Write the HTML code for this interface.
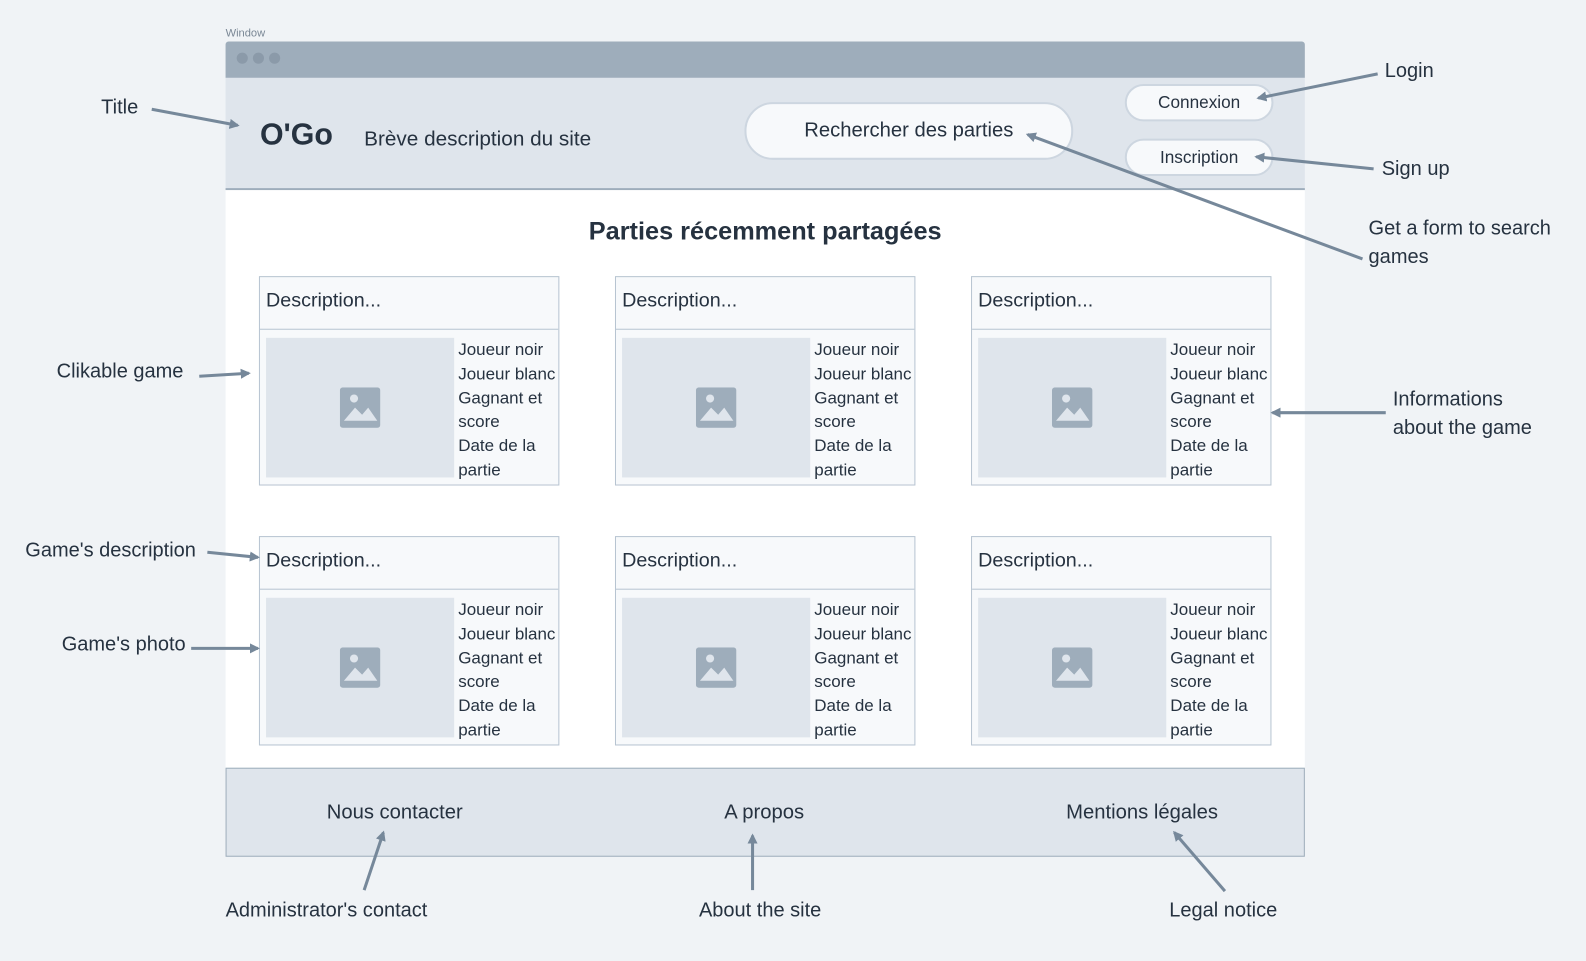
<!DOCTYPE html>
<html><head><meta charset="utf-8"><style>
body{margin:0;width:1586px;height:950px;background:#f0f3f6;font-family:"Liberation Sans",sans-serif;color:#263240;overflow:hidden}
#w{position:absolute;left:0;top:0;width:1568px;height:940px;transform:scale(1.0115);transform-origin:0 0}
.a{position:absolute;white-space:nowrap}
.card{position:absolute;width:295px;height:205px;border:1px solid #b7c4d1;background:#f7f9fb;overflow:hidden}
.card .h{height:51px;border-bottom:1px solid #b7c4d1;font-size:19.5px;line-height:46px;padding-left:6px}
.card .img{position:absolute;left:6px;top:60px;width:186px;height:138px;background:#dfe5ec}
.card .img svg{position:absolute;left:73px;top:49px}
.card .t{position:absolute;left:196px;top:60px;font-size:16.8px;line-height:23.8px;white-space:nowrap}
.btn{position:absolute;border:2px solid #cdd6e0;background:#f7f9fb;border-radius:20px;text-align:center;font-size:17px}
.lbl{position:absolute;font-size:19.8px;white-space:nowrap;color:#263240}
</style></head><body><div id="w">
<div class="a" style="left:223px;top:27px;font-size:11px;color:#7a8795">Window</div>
<div class="a" style="left:223px;top:41px;width:1067px;height:36px;background:#9eadbb;border-radius:3px 3px 0 0"></div>
<div class="a" style="left:234px;top:52px;width:11px;height:11px;border-radius:50%;background:#8b9aa9"></div>
<div class="a" style="left:250px;top:52px;width:11px;height:11px;border-radius:50%;background:#8b9aa9"></div>
<div class="a" style="left:266px;top:52px;width:11px;height:11px;border-radius:50%;background:#8b9aa9"></div>
<div class="a" style="left:223px;top:77px;width:1067px;height:109px;background:#dfe5ec;border-bottom:2px solid #9eadbb"></div>
<div class="a" style="left:223px;top:188px;width:1067px;height:572px;background:#fff"></div>
<div class="a" style="left:223px;top:759px;width:1065px;height:86px;background:#dfe5ec;border:1px solid #9eadbb"></div>
<div class="a" style="left:257px;top:117px;font-size:30px;font-weight:bold">O'Go</div>
<div class="a" style="left:360px;top:126px;font-size:20.5px">Brève description du site</div>
<div class="btn" style="left:736px;top:101px;width:321px;height:53px;line-height:53px;border-radius:28px;font-size:20px">Rechercher des parties</div>
<div class="btn" style="left:1112px;top:83px;width:143px;height:33px;line-height:33px">Connexion</div>
<div class="btn" style="left:1112px;top:137px;width:143px;height:33px;line-height:33px">Inscription</div>
<div class="a" style="left:223px;top:215px;width:1067px;text-align:center;font-size:25px;font-weight:bold">Parties récemment partagées</div>

<div class="card" style="left:256px;top:273px"><div class="h">Description...</div><div class="img"><svg width="40" height="40"><rect width="40" height="40" rx="3" fill="#9eadbb"/><circle cx="14" cy="11" r="4" fill="#dfe5ec"/><path d="M4 33 L15 20 L22 27 L28 20 L37 33Z" fill="#dfe5ec"/></svg></div><div class="t">Joueur noir<br>Joueur blanc<br>Gagnant et<br>score<br>Date de la<br>partie</div></div>
<div class="card" style="left:608px;top:273px"><div class="h">Description...</div><div class="img"><svg width="40" height="40"><rect width="40" height="40" rx="3" fill="#9eadbb"/><circle cx="14" cy="11" r="4" fill="#dfe5ec"/><path d="M4 33 L15 20 L22 27 L28 20 L37 33Z" fill="#dfe5ec"/></svg></div><div class="t">Joueur noir<br>Joueur blanc<br>Gagnant et<br>score<br>Date de la<br>partie</div></div>
<div class="card" style="left:960px;top:273px"><div class="h">Description...</div><div class="img"><svg width="40" height="40"><rect width="40" height="40" rx="3" fill="#9eadbb"/><circle cx="14" cy="11" r="4" fill="#dfe5ec"/><path d="M4 33 L15 20 L22 27 L28 20 L37 33Z" fill="#dfe5ec"/></svg></div><div class="t">Joueur noir<br>Joueur blanc<br>Gagnant et<br>score<br>Date de la<br>partie</div></div>
<div class="card" style="left:256px;top:530px"><div class="h">Description...</div><div class="img"><svg width="40" height="40"><rect width="40" height="40" rx="3" fill="#9eadbb"/><circle cx="14" cy="11" r="4" fill="#dfe5ec"/><path d="M4 33 L15 20 L22 27 L28 20 L37 33Z" fill="#dfe5ec"/></svg></div><div class="t">Joueur noir<br>Joueur blanc<br>Gagnant et<br>score<br>Date de la<br>partie</div></div>
<div class="card" style="left:608px;top:530px"><div class="h">Description...</div><div class="img"><svg width="40" height="40"><rect width="40" height="40" rx="3" fill="#9eadbb"/><circle cx="14" cy="11" r="4" fill="#dfe5ec"/><path d="M4 33 L15 20 L22 27 L28 20 L37 33Z" fill="#dfe5ec"/></svg></div><div class="t">Joueur noir<br>Joueur blanc<br>Gagnant et<br>score<br>Date de la<br>partie</div></div>
<div class="card" style="left:960px;top:530px"><div class="h">Description...</div><div class="img"><svg width="40" height="40"><rect width="40" height="40" rx="3" fill="#9eadbb"/><circle cx="14" cy="11" r="4" fill="#dfe5ec"/><path d="M4 33 L15 20 L22 27 L28 20 L37 33Z" fill="#dfe5ec"/></svg></div><div class="t">Joueur noir<br>Joueur blanc<br>Gagnant et<br>score<br>Date de la<br>partie</div></div>

<div class="a" style="left:323px;top:792px;font-size:20px">Nous contacter</div>
<div class="a" style="left:716px;top:792px;font-size:20px">A propos</div>
<div class="a" style="left:1054px;top:792px;font-size:20px">Mentions légales</div>

<div class="lbl" style="left:100px;top:95px">Title</div>
<div class="lbl" style="left:1369px;top:59px">Login</div>
<div class="lbl" style="left:1366px;top:156px">Sign up</div>
<div class="lbl" style="left:1353px;top:212px;line-height:28px">Get a form to search<br>games</div>
<div class="lbl" style="left:56px;top:356px">Clikable game</div>
<div class="lbl" style="left:1377px;top:381px;line-height:28px">Informations<br>about the game</div>
<div class="lbl" style="left:25px;top:533px">Game's description</div>
<div class="lbl" style="left:61px;top:626px">Game's photo</div>
<div class="lbl" style="left:223px;top:889px">Administrator's contact</div>
<div class="lbl" style="left:691px;top:889px">About the site</div>
<div class="lbl" style="left:1156px;top:889px">Legal notice</div>

<svg class="a" style="left:0;top:0" width="1586" height="950">
<defs><marker id="m" markerWidth="10" markerHeight="10" refX="8" refY="5" orient="auto" markerUnits="userSpaceOnUse"><path d="M0 0 L10 5 L0 10Z" fill="#76889a"/></marker></defs>
<g stroke="#76889a" stroke-width="3" fill="none" marker-end="url(#m)">
<line x1="150" y1="108" x2="235" y2="124"/>
<line x1="1362" y1="73" x2="1244" y2="97"/>
<line x1="1358" y1="167" x2="1242" y2="155"/>
<line x1="1347" y1="256" x2="1016" y2="133"/>
<line x1="197" y1="372" x2="246" y2="369"/>
<line x1="1370" y1="408" x2="1258" y2="408"/>
<line x1="205" y1="546" x2="255" y2="551"/>
<line x1="189" y1="641" x2="255" y2="641"/>
<line x1="360" y1="880" x2="379" y2="823"/>
<line x1="744" y1="880" x2="744" y2="826"/>
<line x1="1211" y1="881" x2="1161" y2="823"/>
</g></svg>
</div></body></html>
